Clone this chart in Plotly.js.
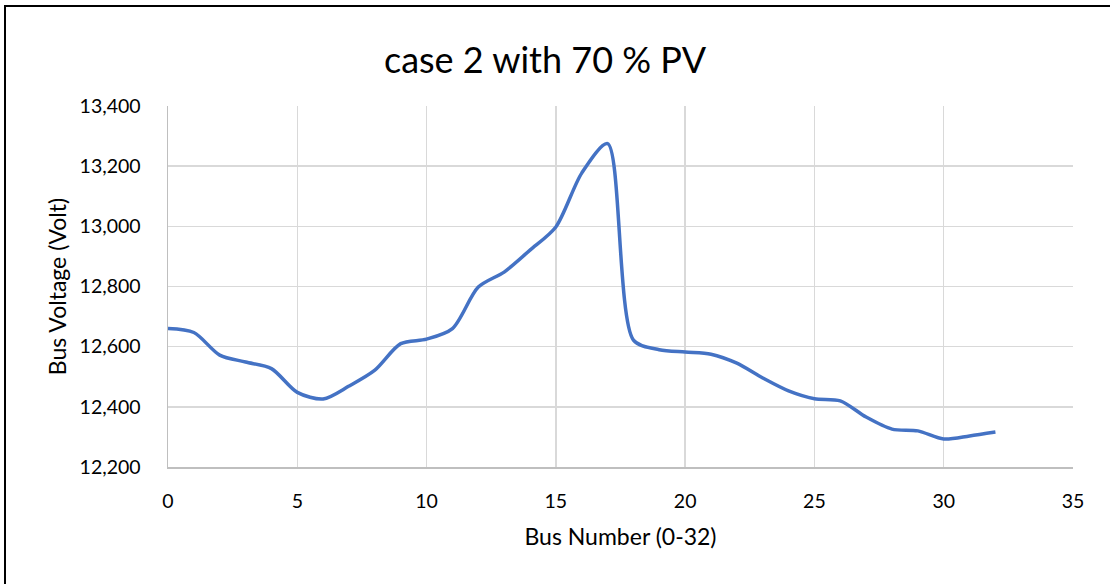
<!DOCTYPE html>
<html>
<head>
<meta charset="utf-8">
<script src="https://cdn.plot.ly/plotly-3.0.1.min.js"></script>
<style>
  html, body { margin: 0; padding: 0; background: #fff; }
  #chart { width: 1110px; height: 584px; position: absolute; left: 0; top: 0; }
  #frame { position: absolute; left: 4px; top: 5px; width: 1200px; height: 700px; border-left: 2px solid #000; border-top: 2px solid #000; pointer-events: none; }
</style>
</head>
<body>
<div id="chart"></div>
<div id="frame"></div>
<script>
const busNumbers = [0,1,2,3,4,5,6,7,8,9,10,11,12,13,14,15,16,17,18,19,20,21,22,23,24,25,26,27,28,29,30,31,32];
const busVoltage = [12660,12647,12572,12549,12527,12448,12426,12469,12522,12610,12625,12660,12798,12848,12921,12998,13177,13275,12622,12590,12582,12575,12545,12496,12453,12427,12420,12366,12326,12320,12293,12303,12316];
const yTicks = [12200,12400,12600,12800,13000,13200,13400];
const yTickLabels = ["12,200","12,400","12,600","12,800","13,000","13,200","13,400"];
const xTicks = [0,5,10,15,20,25,30,35];

const font = "Lato, 'Open Sans', sans-serif";

Plotly.newPlot('chart', [{
  x: busNumbers,
  y: busVoltage,
  type: 'scatter',
  mode: 'lines',
  line: { color: '#4472C4', width: 3.5, shape: 'spline', smoothing: 0.8 },
  hoverinfo: 'skip'
}], {
  width: 1110, height: 584,
  margin: { l: 168, r: 37, t: 106, b: 117 },
  paper_bgcolor: '#fff', plot_bgcolor: '#fff',
  showlegend: false,
  title: { text: 'case 2 with 70 % PV', font: { family: font, size: 36, color: '#000' },
           x: 0.4166, xref: 'paper', xanchor: 'center', y: 0.896, yref: 'container', yanchor: 'middle' },
  xaxis: {
    range: [0, 35], tickvals: xTicks, ticktext: xTicks.map(String),
    showgrid: true, gridcolor: '#d9d9d9', gridwidth: 1.5,
    zeroline: false, showline: true, linecolor: '#bfbfbf', linewidth: 1.5, mirror: false,
    ticks: '', ticklabelstandoff: 16,
    tickfont: { family: font, size: 19.5, color: '#000' },
    title: { text: 'Bus Number (0-32)', font: { family: font, size: 23, color: '#000' }, standoff: 18 }
  },
  yaxis: {
    range: [12200, 13400], tickvals: yTicks, ticktext: yTickLabels,
    showgrid: true, gridcolor: '#d9d9d9', gridwidth: 1.5,
    zeroline: false, showline: true, linecolor: '#bfbfbf', linewidth: 1.5,
    ticks: '', ticklabelstandoff: 22,
    tickfont: { family: font, size: 19.5, color: '#000' },
    title: { text: 'Bus Voltage (Volt)', font: { family: font, size: 23, color: '#000' }, standoff: 6 }
  }
}, { staticPlot: true });
</script>
</body>
</html>
